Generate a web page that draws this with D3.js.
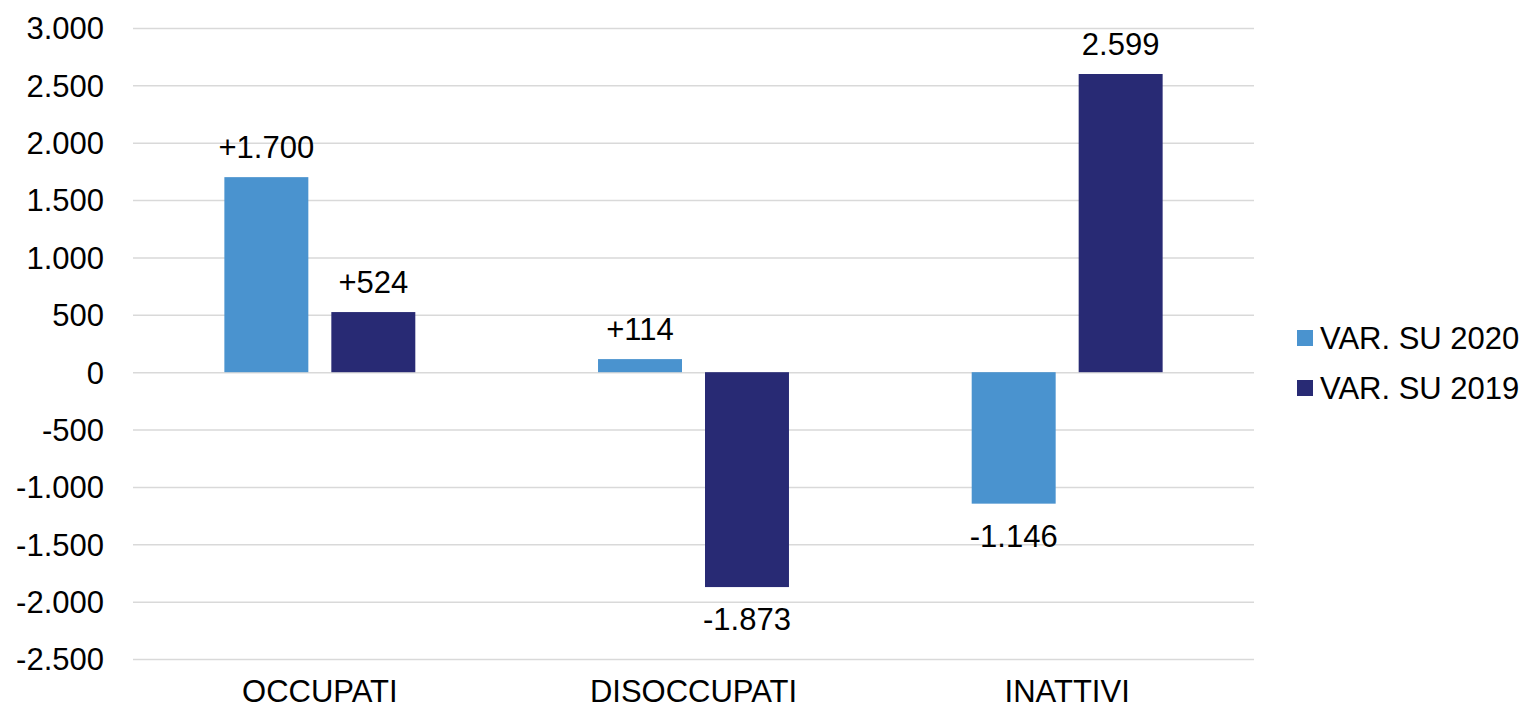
<!DOCTYPE html>
<html>
<head>
<meta charset="utf-8">
<script src="https://cdn.jsdelivr.net/npm/d3@7"></script>
<style>
  html, body { margin: 0; padding: 0; background: #fff; }
  svg { display: block; font-family: "Liberation Sans", Arial, sans-serif; }
</style>
</head>
<body>
<svg id="chart" width="1532" height="709"></svg>
<script>
const categories = ["OCCUPATI", "DISOCCUPATI", "INATTIVI"];
const seriesNames = ["VAR. SU 2020", "VAR. SU 2019"];
const var2020 = [1700, 114, -1146];
const var2019 = [524, -1873, 2599];
const labels2020 = ["+1.700", "+114", "-1.146"];
const labels2019 = ["+524", "-1.873", "2.599"];
const yTicks = [-2500, -2000, -1500, -1000, -500, 0, 500, 1000, 1500, 2000, 2500, 3000];
const colors = ["#4a93cf", "#282a74"];

const svg = d3.select("#chart");
const plotLeft = 133, plotRight = 1254, plotTop = 28, plotBottom = 659;

const y = d3.scaleLinear().domain([-2500, 3000]).range([plotBottom, plotTop]);
const x0 = d3.scaleBand().domain(categories).range([plotLeft, plotRight]).paddingInner(0.489).paddingOuter(0.2445);
const x1 = d3.scaleBand().domain(seriesNames).range([0, x0.bandwidth()]).paddingInner(0.215).paddingOuter(0);

const fmt = v => d3.format(",")(v).replace(/,/g, ".").replace("−", "-");

// gridlines + y labels
const yAxis = d3.axisLeft(y).tickValues(yTicks).tickSize(-(plotRight - plotLeft)).tickFormat(fmt).tickPadding(29);
const gy = svg.append("g").attr("transform", `translate(${plotLeft},0)`).call(yAxis);
gy.select(".domain").remove();
gy.selectAll(".tick line").attr("stroke", "#d9d9d9").attr("stroke-width", 1.5);
gy.selectAll(".tick text").attr("font-size", 31).attr("fill", "#000").attr("dy", "0.35em")
  .attr("font-family", '"Liberation Sans", Arial, sans-serif');

// x axis labels
const xAxis = d3.axisBottom(x0).tickSize(0).tickPadding(0);
const gx = svg.append("g").attr("transform", `translate(0,${plotBottom})`).call(xAxis);
gx.select(".domain").remove();
gx.selectAll(".tick text").attr("font-size", 31).attr("fill", "#000").attr("dy", null).attr("y", 43)
  .attr("font-family", '"Liberation Sans", Arial, sans-serif');

const data = [];
categories.forEach((c, i) => {
  data.push({cat: c, s: seriesNames[0], v: var2020[i], label: labels2020[i], color: colors[0]});
  data.push({cat: c, s: seriesNames[1], v: var2019[i], label: labels2019[i], color: colors[1]});
});

svg.append("g").selectAll("rect").data(data).join("rect")
  .attr("x", d => x0(d.cat) + x1(d.s))
  .attr("width", x1.bandwidth())
  .attr("y", d => y(Math.max(0, d.v)))
  .attr("height", d => Math.abs(y(d.v) - y(0)))
  .attr("fill", d => d.color);

svg.append("g").selectAll("text").data(data).join("text")
  .attr("x", d => x0(d.cat) + x1(d.s) + x1.bandwidth() / 2)
  .attr("y", d => d.v >= 0 ? y(d.v) - 19 : y(d.v) + 43)
  .attr("text-anchor", "middle")
  .attr("font-size", 31)
  .attr("fill", "#000")
  .text(d => d.label);

// legend
const leg = svg.append("g");
seriesNames.forEach((s, i) => {
  const cy = 338 + i * 50;
  leg.append("rect").attr("x", 1297).attr("y", cy - 8).attr("width", 16).attr("height", 16).attr("fill", colors[i]);
  leg.append("text").attr("x", 1320).attr("y", cy).attr("dy", "0.35em").attr("font-size", 31).attr("fill", "#000").text(s);
});
</script>
</body>
</html>
